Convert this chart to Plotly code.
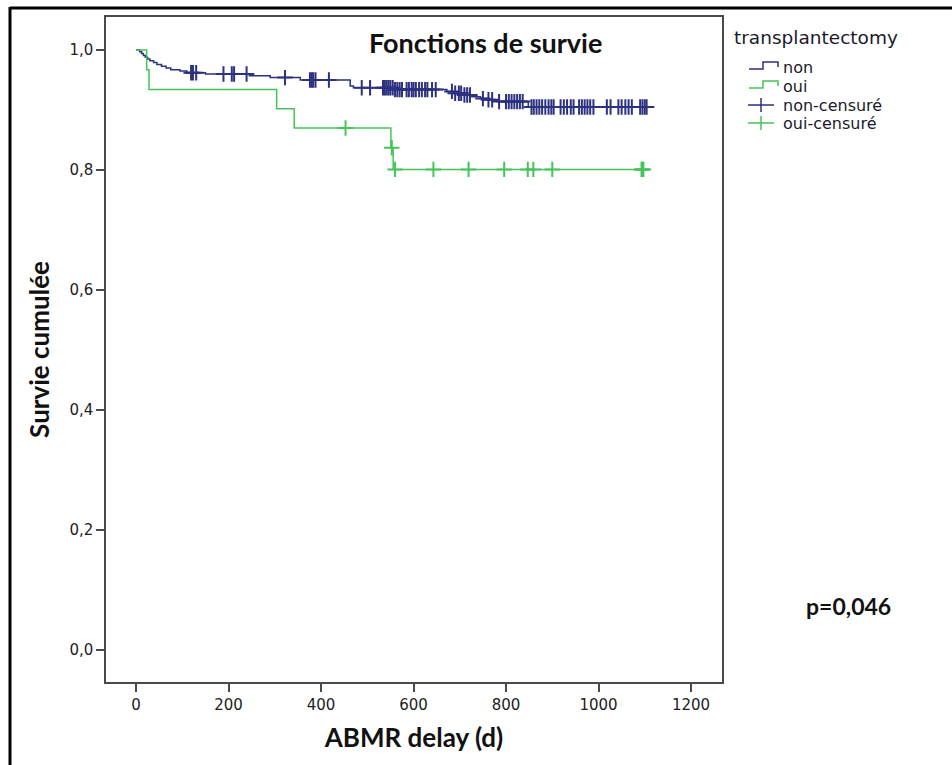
import plotly.graph_objects as go

# ---------------- data ----------------
# Kaplan-Meier step curve, group "non"
non_event_t = [0, 8, 12, 16, 20, 25, 30, 38, 45, 55, 65, 75, 95, 110, 150, 245, 290, 355,
               463, 470, 560, 672, 690, 705, 725, 745, 760, 780, 848]
non_event_s = [1.000, 0.997, 0.994, 0.991, 0.988, 0.985, 0.982, 0.979, 0.976, 0.973, 0.970,
               0.967, 0.965, 0.962, 0.960, 0.957, 0.954, 0.950, 0.940, 0.937, 0.934, 0.931,
               0.928, 0.925, 0.922, 0.919, 0.917, 0.914, 0.905]
non_censor_t = [119, 123, 130, 189, 207, 212, 239, 322, 376, 380, 383, 388, 417, 488, 506,
                534, 538, 542, 546, 550, 555, 560, 565, 570, 575, 585, 590, 596, 600, 605,
                612, 618, 625, 630, 640, 648, 683, 690, 698, 703, 710, 716, 722, 750, 762,
                770, 785, 800, 806, 812, 818, 824, 830, 836, 855, 860, 866, 872, 878, 885,
                892, 898, 903, 918, 925, 932, 940, 946, 958, 964, 970, 976, 982, 989, 1018,
                1026, 1043, 1050, 1058, 1065, 1072, 1090, 1095, 1100, 1104]

# Kaplan-Meier step curve, group "oui"
oui_event_t = [0, 23, 28, 304, 342, 551, 556]
oui_event_s = [1.000, 0.967, 0.934, 0.902, 0.870, 0.837, 0.801]
oui_censor_t = [453, 553, 560, 643, 719, 796, 847, 859, 900, 1093, 1095, 1097]

# axis ticks
x_tickvals = [0, 200, 400, 600, 800, 1000, 1200]
x_ticktext = ["0", "200", "400", "600", "800", "1000", "1200"]
y_tickvals = [0.0, 0.2, 0.4, 0.6, 0.8, 1.0]
y_ticktext = ["0,0", "0,2", "0,4", "0,6", "0,8", "1,0"]

legend_title = "transplantectomy"
legend_labels = ["non", "oui", "non-censuré", "oui-censuré"]

BLUE = "#2c3180"
GREEN = "#46c45a"


def km_at(times, surv, t):
    s = surv[0]
    for ti, si in zip(times, surv):
        if ti <= t:
            s = si
    return s


def step_xy(times, surv, end_t):
    xs = list(times) + [end_t]
    ys = list(surv) + [surv[-1]]
    return xs, ys


fig = go.Figure()

nx, ny = step_xy(non_event_t, non_event_s, max(non_censor_t))
ox, oy = step_xy(oui_event_t, oui_event_s, max(oui_censor_t))

fig.add_trace(go.Scatter(x=nx, y=ny, mode="lines", line=dict(color=BLUE, width=1.5, shape="hv"),
                         name=legend_labels[0]))
fig.add_trace(go.Scatter(x=ox, y=oy, mode="lines", line=dict(color=GREEN, width=1.5, shape="hv"),
                         name=legend_labels[1]))
fig.add_trace(go.Scatter(x=non_censor_t, y=[km_at(non_event_t, non_event_s, t) for t in non_censor_t],
                         mode="markers",
                         marker=dict(symbol="cross-thin", size=11, line=dict(color=BLUE, width=2)),
                         name=legend_labels[2]))
fig.add_trace(go.Scatter(x=oui_censor_t, y=[km_at(oui_event_t, oui_event_s, t) for t in oui_censor_t],
                         mode="markers",
                         marker=dict(symbol="cross-thin", size=11, line=dict(color=GREEN, width=2)),
                         name=legend_labels[3]))

L, R, T, B = 106, 230, 17, 83
W, H = 952, 765
pw, ph = W - L - R, H - T - B


def px_x(p):
    return (p - L) / pw


def px_y(p):
    return (H - B - p) / ph


def path(points):
    return "M " + " L ".join(f"{px_x(a):.5f},{px_y(b):.5f}" for a, b in points)


tick_font = dict(family="DejaVu Sans", size=15, color="#222222")
title_font = dict(family="Lato", size=26, color="#111111")
legend_font = dict(family="DejaVu Sans", size=16, color="#1a1a2a")

# ---------- hand-drawn legend (SPSS style) ----------
leg_shapes = []
leg_ann = [dict(text=legend_title, x=px_x(732), y=px_y(38), xref="paper", yref="paper",
                showarrow=False, xanchor="left", yanchor="middle",
                font=dict(family="DejaVu Sans", size=18.5, color="#1a1a2a"))]
row_y = [67, 86, 105, 123]
colors = [BLUE, GREEN, BLUE, GREEN]
for i, (lab, yc, col) in enumerate(zip(legend_labels, row_y, colors)):
    if i < 2:
        pts = [(749, yc + 2), (763, yc + 2), (763, yc - 5), (778, yc - 5), (778, yc)]
    else:
        pts = [(748, yc), (774, yc)]
        leg_shapes.append(dict(type="line", xref="paper", yref="paper",
                               x0=px_x(761), x1=px_x(761), y0=px_y(yc - 7), y1=px_y(yc + 7),
                               line=dict(color=col, width=1.5)))
    leg_shapes.append(dict(type="path", xref="paper", yref="paper", path=path(pts),
                           line=dict(color=col, width=1.5)))
    leg_ann.append(dict(text=lab, x=px_x(781), y=px_y(yc), xref="paper", yref="paper",
                        showarrow=False, xanchor="left", yanchor="middle", font=legend_font))

fig.update_layout(
    width=W, height=H,
    margin=dict(l=L, r=R, t=T, b=B),
    paper_bgcolor="white", plot_bgcolor="white",
    showlegend=False,
    xaxis=dict(
        range=[-65, 1267], tickvals=x_tickvals, ticktext=x_ticktext,
        showgrid=False, zeroline=False, showline=True, mirror=True,
        linecolor="#4a4a4a", linewidth=1.5, ticks="outside", ticklen=8, tickwidth=2,
        tickcolor="#4a4a4a", tickfont=tick_font,
        title=dict(text="<b>ABMR delay (d)</b>", font=title_font, standoff=16),
    ),
    yaxis=dict(
        range=[-0.0533, 1.055], tickvals=y_tickvals, ticktext=y_ticktext,
        showgrid=False, zeroline=False, showline=True, mirror=True,
        linecolor="#4a4a4a", linewidth=1.5, ticks="outside", ticklen=8, tickwidth=2,
        tickcolor="#4a4a4a", tickfont=tick_font,
        title=dict(text="<b>Survie cumulée</b>", font=title_font, standoff=12),
    ),
    annotations=[
        dict(text="<b>Fonctions de survie</b>", x=px_x(485), y=px_y(42), xref="paper", yref="paper",
             showarrow=False, font=dict(family="Lato", size=27, color="#111111"),
             xanchor="center", yanchor="middle"),
        dict(text="<b>p=0,046</b>", x=px_x(848), y=px_y(606), xref="paper", yref="paper",
             showarrow=False, font=dict(family="Lato", size=23, color="#111111"),
             xanchor="center", yanchor="middle"),
    ] + leg_ann,
    shapes=[
        dict(type="line", xref="paper", yref="paper", x0=px_x(10), x1=px_x(960),
             y0=px_y(8), y1=px_y(8), line=dict(color="black", width=3)),
        dict(type="line", xref="paper", yref="paper", x0=px_x(10), x1=px_x(10),
             y0=px_y(7), y1=px_y(780), line=dict(color="black", width=3)),
    ] + leg_shapes,
)

fig.write_html("out.html")
